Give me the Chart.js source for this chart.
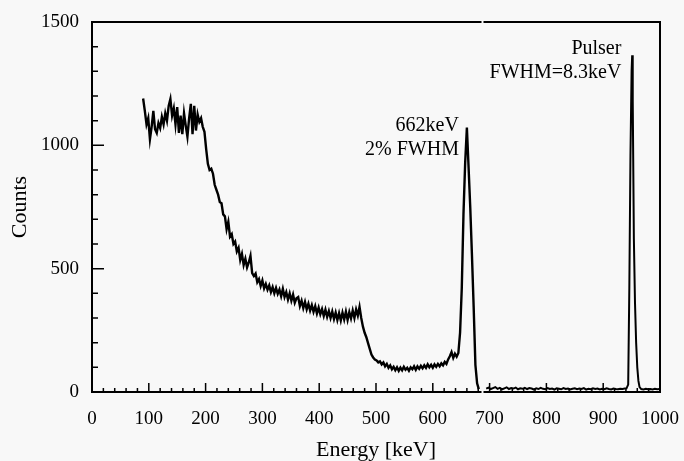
<!DOCTYPE html>
<html>
<head>
<meta charset="utf-8">
<script src="https://cdn.jsdelivr.net/npm/chart.js@4/dist/chart.umd.min.js"></script>
<style>
  html, body { margin: 0; padding: 0; background: #f8f8f8; }
  #spectrum { display: block; }
</style>
</head>
<body>
<canvas id="spectrum" width="684" height="461"></canvas>
<script>
// Compton continuum + 662 keV photopeak, channels every 3 keV starting at 90 keV
const contStart = 90;
const contStep = 3;
const contCounts = [
  1190, 1140, 1085, 1110, 1025, 1075, 1140, 1065, 1050, 1090,
  1070, 1115, 1085, 1130, 1100, 1160, 1188, 1120, 1150, 1085,
  1155, 1050, 1120, 1045, 1130, 1080, 1035, 1110, 1168, 1045,
  1160, 1060, 1125, 1095, 1110, 1075, 1055, 985, 925, 900,
  905, 885, 840, 820, 800, 770, 765, 720, 712, 660,
  690, 630, 640, 600, 610, 570, 585, 535, 560, 515,
  540, 505, 525, 552, 482, 470, 480, 445, 458, 430,
  452, 420, 438, 415, 432, 405, 425, 400, 422, 398,
  415, 388, 418, 385, 405, 375, 400, 370, 395, 362,
  380, 385, 348, 370, 340, 365, 335, 358, 330, 352,
  325, 348, 318, 342, 315, 336, 308, 334, 305, 328,
  300, 326, 296, 322, 292, 320, 290, 322, 294, 326,
  292, 324, 298, 330, 300, 335, 310, 345, 300, 265,
  240, 222, 198, 175, 152, 140, 132, 128, 120, 124,
  112, 120, 104, 114, 98, 108, 92, 102, 88, 100,
  86, 99, 88, 102, 90, 98, 86, 100, 92, 104,
  90, 104, 94, 106, 96, 108, 98, 112, 100, 110,
  98, 112, 102, 114, 104, 116, 108, 122, 114, 132,
  145, 162, 138, 155, 143, 158, 240, 420, 720, 930,
  1072, 910, 745, 550, 340, 110, 35, 12
];

// flat region above the break and the pulser peak
const highEnergy = [
  694, 698, 702, 706, 710, 714, 718, 722, 726, 730,
  734, 738, 742, 746, 750, 754, 758, 762, 766, 770,
  774, 778, 782, 786, 790, 794, 798, 802, 806, 810,
  814, 818, 822, 826, 830, 834, 838, 842, 846, 850,
  854, 858, 862, 866, 870, 874, 878, 882, 886, 890,
  894, 898, 902, 906, 910, 914, 918, 922, 926, 930,
  934, 938, 941, 944, 946, 948, 950, 951, 952, 954,
  956, 958, 960, 962, 964, 967, 971, 975, 979, 983,
  987, 991, 995, 999
];
const highCounts = [
  14, 18, 12, 16, 20, 13, 17, 11, 15, 19,
  12, 16, 14, 18, 11, 15, 13, 17, 12, 16,
  14, 10, 15, 12, 17, 13, 11, 16, 12, 14,
  10, 15, 13, 11, 16, 12, 14, 10, 13, 15,
  11, 14, 12, 16, 10, 13, 11, 15, 12, 14,
  10, 13, 11, 15, 12, 10, 14, 12, 11, 13,
  12, 14, 15, 30, 420, 960, 1300, 1365, 1180, 620,
  360, 200, 100, 45, 20, 12, 10, 13, 11, 12,
  10, 13, 11, 12
];

const xTicks = [0, 100, 200, 300, 400, 500, 600, 700, 800, 900, 1000];
const yTicks = [0, 500, 1000, 1500];
const xMinorStep = 20;
const yMinorStep = 100;
const axisGap = [684, 691];

const peakNotes = [
  { lines: ['662keV', '2% FWHM'], x: 646, y: 1081 },
  { lines: ['Pulser', 'FWHM=8.3keV'], x: 932, y: 1393 }
];

const contPoints = contCounts.map((c, i) => ({ x: contStart + i * contStep, y: c }));
const highPoints = highEnergy.map((e, i) => ({ x: e, y: highCounts[i] }));

const serif = "'Liberation Serif', 'Times New Roman', serif";

const frame = {
  id: 'frame',
  beforeDraw(chart) {
    const ctx = chart.ctx;
    ctx.save();
    ctx.fillStyle = '#f8f8f8';
    ctx.fillRect(0, 0, chart.width, chart.height);
    ctx.restore();
  },
  afterDatasetsDraw(chart) {
    const { ctx, chartArea: a, scales: { x, y } } = chart;
    const g0 = x.getPixelForValue(axisGap[0]);
    const g1 = x.getPixelForValue(axisGap[1]);
    ctx.save();
    ctx.strokeStyle = '#000';
    ctx.lineWidth = 2;
    ctx.lineCap = 'square';
    ctx.beginPath();
    ctx.moveTo(a.left, a.top); ctx.lineTo(a.left, a.bottom);
    ctx.moveTo(a.left, a.bottom); ctx.lineTo(g0, a.bottom);
    ctx.moveTo(g1, a.bottom); ctx.lineTo(a.right, a.bottom);
    ctx.moveTo(a.right, a.bottom); ctx.lineTo(a.right, a.top);
    ctx.moveTo(a.right, a.top); ctx.lineTo(g1, a.top);
    ctx.moveTo(g0, a.top); ctx.lineTo(a.left, a.top);
    ctx.stroke();

    // inward tick marks
    ctx.lineWidth = 1.5;
    ctx.lineCap = 'butt';
    ctx.beginPath();
    for (let v = xMinorStep; v < x.max; v += xMinorStep) {
      const px = x.getPixelForValue(v);
      const len = xTicks.includes(v) ? 9 : 4;
      ctx.moveTo(px, a.bottom); ctx.lineTo(px, a.bottom - len);
    }
    for (let v = yMinorStep; v < y.max; v += yMinorStep) {
      const py = y.getPixelForValue(v);
      const len = yTicks.includes(v) ? 12 : 6;
      ctx.moveTo(a.left, py); ctx.lineTo(a.left + len, py);
    }
    ctx.stroke();

    // peak labels
    ctx.fillStyle = '#000';
    ctx.font = '20px ' + serif;
    ctx.textAlign = 'right';
    ctx.textBaseline = 'middle';
    peakNotes.forEach(note => {
      const px = x.getPixelForValue(note.x);
      const py = y.getPixelForValue(note.y);
      note.lines.forEach((t, i) => ctx.fillText(t, px, py + i * 24));
    });
    ctx.restore();
  }
};

new Chart(document.getElementById('spectrum'), {
  type: 'line',
  data: {
    datasets: [
      { data: contPoints, borderColor: '#000', borderWidth: 2.4, pointRadius: 0, tension: 0, fill: false },
      { data: highPoints, borderColor: '#000', borderWidth: 2, pointRadius: 0, tension: 0, fill: false }
    ]
  },
  options: {
    responsive: false,
    animation: false,
    devicePixelRatio: 1,
    layout: { padding: { top: 22, right: 24, left: 0, bottom: 0 } },
    plugins: { legend: { display: false }, tooltip: { enabled: false } },
    scales: {
      x: {
        type: 'linear',
        min: 0,
        max: 1000,
        afterFit: s => { s.height = 69; s.paddingLeft = 0; s.paddingRight = 0; },
        afterBuildTicks: s => { s.ticks = xTicks.map(v => ({ value: v })); },
        grid: { display: false, drawTicks: false },
        border: { display: false },
        ticks: { color: '#000', font: { family: serif, size: 19 }, padding: 16, maxRotation: 0, autoSkip: false, callback: v => String(v) },
        title: { display: true, text: 'Energy [keV]', color: '#000', font: { family: serif, size: 22, lineHeight: 1 }, padding: { top: 0, bottom: 0 } }
      },
      y: {
        min: 0,
        max: 1500,
        afterFit: s => { s.width = 92; s.paddingTop = 0; s.paddingBottom = 0; },
        afterBuildTicks: s => { s.ticks = yTicks.map(v => ({ value: v })); },
        grid: { display: false, drawTicks: false },
        border: { display: false },
        ticks: { color: '#000', font: { family: serif, size: 19 }, padding: 13, callback: v => String(v) },
        title: { display: true, text: 'Counts', color: '#000', font: { family: serif, size: 22, lineHeight: 1 }, padding: { top: 9, bottom: 0 } }
      }
    }
  },
  plugins: [frame]
});
</script>
</body>
</html>
